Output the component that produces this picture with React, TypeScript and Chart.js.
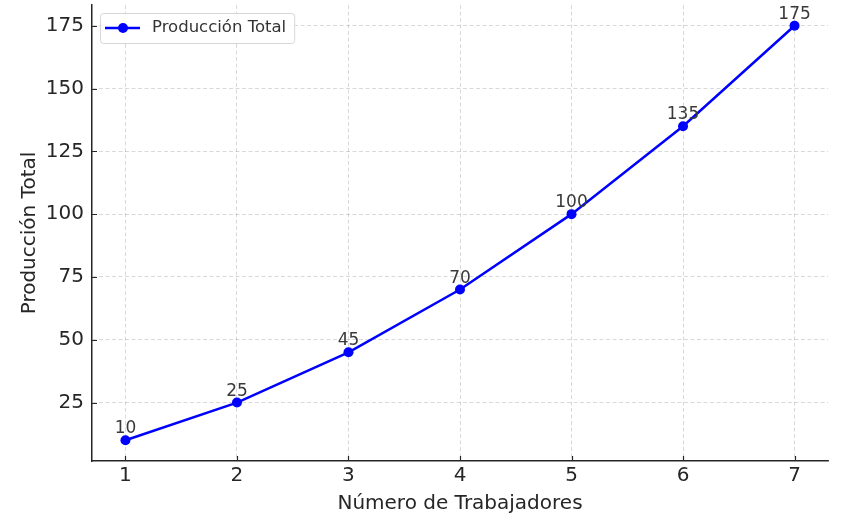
import React, { useEffect, useRef } from "react";
import { Chart, registerables } from "chart.js";

Chart.register(...registerables);

const workers = [1, 2, 3, 4, 5, 6, 7];
const production = [10, 25, 45, 70, 100, 135, 175];
const yTicks = [25, 50, 75, 100, 125, 150, 175];
const seriesLabel = "Producción Total";
const xTitle = "Número de Trabajadores";
const yTitle = "Producción Total";

const FONT = "'DejaVu Sans', sans-serif";
const BLUE = "#0000ff";
const DARK = "#262626";

const labelPlugin = {
  id: "pointLabels",
  afterDatasetsDraw(chart: any) {
    const ctx = chart.ctx;
    const meta = chart.getDatasetMeta(0);
    ctx.save();
    ctx.font = `17px ${FONT}`;
    ctx.fillStyle = "#3a3a3a";
    ctx.textAlign = "center";
    ctx.textBaseline = "alphabetic";
    meta.data.forEach((pt: any, i: number) => {
      ctx.fillText(String(production[i]), pt.x, pt.y - 7);
    });
    ctx.restore();
  },
};

const innerTicksPlugin = {
  id: "innerTicks",
  beforeDatasetsDraw(chart: any) {
    const ctx = chart.ctx;
    const area = chart.chartArea;
    const xs = chart.scales.x;
    const ys = chart.scales.y;
    ctx.save();
    ctx.strokeStyle = DARK;
    ctx.lineWidth = 1.2;
    ctx.beginPath();
    workers.forEach((v) => {
      const px = Math.round(xs.getPixelForValue(v)) + 0.5;
      ctx.moveTo(px, area.bottom);
      ctx.lineTo(px, area.bottom - 5);
    });
    yTicks.forEach((v) => {
      const py = Math.round(ys.getPixelForValue(v)) + 0.5;
      ctx.moveTo(area.left, py);
      ctx.lineTo(area.left + 5, py);
    });
    ctx.stroke();
    ctx.restore();
  },
};

const legendPlugin = {
  id: "mplLegend",
  afterDraw(chart: any) {
    const ctx = chart.ctx;
    const area = chart.chartArea;
    const x0 = area.left + 8;
    const y0 = area.top + 8;
    ctx.save();
    ctx.font = `16.5px ${FONT}`;
    const tw = ctx.measureText(seriesLabel).width;
    const w = 52 + tw + 8;
    const h = 30;
    ctx.fillStyle = "rgba(255,255,255,0.85)";
    ctx.strokeStyle = "#d6d6d6";
    ctx.lineWidth = 1;
    ctx.beginPath();
    (ctx as any).roundRect(x0 + 0.5, y0 + 0.5, w, h, 3);
    ctx.fill();
    ctx.stroke();
    const cy = y0 + h / 2;
    ctx.strokeStyle = BLUE;
    ctx.lineWidth = 2.5;
    ctx.beginPath();
    ctx.moveTo(x0 + 5, cy);
    ctx.lineTo(x0 + 40, cy);
    ctx.stroke();
    ctx.fillStyle = BLUE;
    ctx.beginPath();
    ctx.arc(x0 + 23, cy, 5, 0, Math.PI * 2);
    ctx.fill();
    ctx.fillStyle = "#333333";
    ctx.textBaseline = "middle";
    ctx.textAlign = "left";
    ctx.fillText(seriesLabel, x0 + 52, cy);
    ctx.restore();
  },
};

export default function App() {
  const ref = useRef<HTMLCanvasElement | null>(null);
  useEffect(() => {
    if (!ref.current) return;
    const gridOpts = {
      color: "rgba(0,0,0,0.19)",
      lineWidth: 0.8,
      drawTicks: false,
      borderDash: [4, 2.5],
    } as any;
    const chart = new Chart(ref.current, {
      type: "line",
      data: {
        datasets: [
          {
            label: seriesLabel,
            data: workers.map((w, i) => ({ x: w, y: production[i] })),
            borderColor: BLUE,
            backgroundColor: BLUE,
            borderWidth: 2.5,
            pointRadius: 5,
            pointBackgroundColor: BLUE,
            pointBorderWidth: 0,
            tension: 0,
          },
        ],
      },
      options: {
        animation: false,
        responsive: false,
        maintainAspectRatio: false,
        layout: { padding: { top: 5, right: 13, left: 0, bottom: 0 } },
        plugins: { legend: { display: false }, tooltip: { enabled: false } },
        scales: {
          x: {
            type: "linear",
            min: 0.7,
            max: 7.3,
            afterBuildTicks: (s: any) => {
              s.ticks = workers.map((v) => ({ value: v }));
            },
            afterFit: (s: any) => {
              s.height = 60;
              s.paddingLeft = 0;
              s.paddingRight = 0;
            },
            ticks: {
              font: { family: FONT, size: 20 },
              color: DARK,
              padding: 3,
              maxRotation: 0,
              callback: (v: any) => String(v),
            },
            grid: gridOpts,
            border: { color: DARK, width: 1.5, dash: [4, 2.5] } as any,
            title: {
              display: true,
              text: xTitle,
              font: { family: FONT, size: 20 },
              color: DARK,
              padding: { top: 0, bottom: 5 },
            },
          },
          y: {
            type: "linear",
            min: 1.75,
            max: 183.25,
            afterBuildTicks: (s: any) => {
              s.ticks = yTicks.map((v) => ({ value: v }));
            },
            afterFit: (s: any) => {
              s.width = 92;
              s.paddingTop = 0;
              s.paddingBottom = 0;
            },
            ticks: {
              font: { family: FONT, size: 20 },
              color: DARK,
              padding: 8,
            },
            grid: gridOpts,
            border: { color: DARK, width: 1.5, dash: [4, 2.5] } as any,
            title: {
              display: true,
              text: yTitle,
              font: { family: FONT, size: 20 },
              color: DARK,
              padding: { top: 18, bottom: 0 },
            },
          },
        },
      } as any,
      plugins: [innerTicksPlugin, labelPlugin, legendPlugin],
    });
    return () => chart.destroy();
  }, []);
  return (
    <div style={{ position: "absolute", left: 0, top: 0, width: 841, height: 521, background: "#fff" }}>
      <canvas ref={ref} width={841} height={521} style={{ width: 841, height: 521 }} />
    </div>
  );
}
